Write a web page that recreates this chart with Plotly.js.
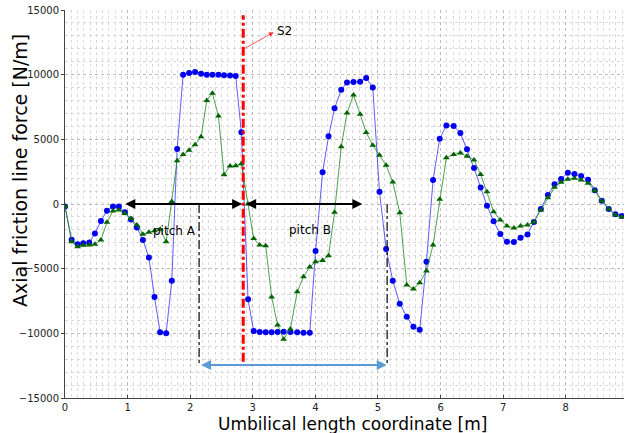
<!DOCTYPE html>
<html>
<head>
<meta charset="utf-8">
<script src="https://cdn.plot.ly/plotly-3.0.1.min.js"></script>
<style>html,body{margin:0;padding:0;background:#fff;}#chart{width:625px;height:433px;}</style>
</head>
<body>
<div id="chart"></div>
<script>
// Umbilical length coordinate [m]
var xCoord = [0.000,0.106,0.202,0.292,0.388,0.478,0.574,0.670,0.766,0.861,
  0.957,1.053,1.148,1.244,1.340,1.430,1.520,1.616,1.706,1.791,
  1.887,1.983,2.078,2.174,2.265,2.355,2.451,2.541,2.637,2.727,
  2.818,2.924,3.014,3.110,3.206,3.301,3.397,3.493,3.600,3.710,
  3.810,3.910,4.003,4.115,4.210,4.306,4.413,4.505,4.609,4.715,
  4.811,4.917,5.024,5.130,5.236,5.348,5.460,5.566,5.667,5.774,
  5.880,5.986,6.092,6.209,6.316,6.422,6.534,6.640,6.741,6.847,
  6.953,7.060,7.171,7.278,7.389,7.490,7.602,7.714,7.820,7.926,
  8.032,8.138,8.245,8.357,8.463,8.575,8.686,8.793,8.894];

// Blue series (circles) [N/m]
var blueForce = [-200,-2760,-3120,-3030,-2980,-2290,-1310,-520,-200,-200,
  -630,-1190,-1810,-2780,-4130,-7200,-9920,-9990,-5930,4250,
  10000,10130,10210,10070,10000,10000,10000,9950,9930,9900,
  5540,-7370,-9820,-9900,-9920,-9920,-9900,-9870,-9900,-9920,
  -9950,-9960,-3630,2450,5230,7400,8830,9400,9440,9460,
  9740,9000,950,-3480,-5930,-7710,-8710,-9490,-9720,-4460,
  1860,5050,6060,6030,5490,4230,2780,1280,-130,-1340,
  -2320,-2910,-2940,-2600,-2350,-1390,-390,700,1520,1930,
  2420,2320,2170,1880,1060,260,-390,-800,-930];

// Green series (triangles) [N/m]
var greenForce = [-150,-2920,-3310,-3180,-3170,-3120,-2780,-1420,-540,-460,
  -730,-1120,-1620,-2330,-2190,-2060,-1960,-2910,200,3350,
  3820,4150,4590,5200,8000,8560,6810,2270,2940,2960,
  3120,0,-2660,-3170,-3220,-7190,-9360,-10450,-9670,-6780,
  -5620,-4870,-4460,-4360,-4000,-640,4430,7030,8430,6930,
  5520,4540,3760,2990,1700,-670,-6260,-6570,-6080,-5180,
  -3170,360,3580,3820,3940,3690,3400,2290,950,-590,
  -1240,-1700,-1860,-1700,-1620,-1390,-460,490,1290,1680,
  1910,1990,1860,1600,1030,230,-390,-850,-1010];

var xTickVals = [0,1,2,3,4,5,6,7,8];
var yTickVals = [-15000,-10000,-5000,0,5000,10000,15000];

var font = "DejaVu Sans, Liberation Sans, sans-serif";

var traces = [
  {x: xCoord, y: blueForce, type: 'scatter', mode: 'lines+markers',
   line: {color: 'rgba(40,40,255,0.75)', width: 1},
   marker: {symbol: 'circle', size: 6, color: '#0000ee', line: {width: 0}},
   hoverinfo: 'skip', showlegend: false},
  {x: xCoord, y: greenForce, type: 'scatter', mode: 'lines+markers',
   line: {color: 'rgba(30,140,30,0.8)', width: 1},
   marker: {symbol: 'triangle-up', size: 6, color: '#006400', line: {width: 0}},
   hoverinfo: 'skip', showlegend: false}
];

var layout = {
  width: 625, height: 433,
  margin: {l: 65, r: 1, t: 10, b: 35, pad: 0},
  paper_bgcolor: '#ffffff', plot_bgcolor: '#ffffff',
  font: {family: font, color: '#000'},
  showlegend: false,
  xaxis: {
    range: [0, 8.93], tickvals: xTickVals, ticks: 'inside', ticklen: 3, tickcolor: '#444',
    tickfont: {size: 10, color: '#222'},
    showline: true, linecolor: '#444', linewidth: 1, zeroline: false,
    showgrid: true, gridcolor: '#bcbcbc', griddash: 'dot', gridwidth: 1,
    minor: {dtick: 0.1, tick0: 0, showgrid: true, gridcolor: '#dadada', griddash: 'dot', gridwidth: 1}
  },
  yaxis: {
    range: [-15000, 15000], tickvals: yTickVals, tickformat: 'd', ticks: 'outside', ticklen: 3, tickcolor: '#444',
    tickfont: {size: 10, color: '#222'},
    showline: true, linecolor: '#444', linewidth: 1, zeroline: false,
    showgrid: true, gridcolor: '#bcbcbc', griddash: 'dot', gridwidth: 1,
    minor: {dtick: 1000, tick0: 0, showgrid: true, gridcolor: '#dadada', griddash: 'dot', gridwidth: 1}
  },
  shapes: [
    {type: 'line', xref: 'x', yref: 'y', x0: 2.847, x1: 2.847, y0: -12200, y1: 14600,
     line: {color: '#ff0000', width: 3, dash: 'dashdot'}},
    {type: 'line', xref: 'x', yref: 'y', x0: 2.142, x1: 2.142, y0: 0, y1: -12450,
     line: {color: '#000', width: 1.2, dash: 'dashdot'}},
    {type: 'line', xref: 'x', yref: 'y', x0: 5.146, x1: 5.146, y0: 0, y1: -12450,
     line: {color: '#000', width: 1.2, dash: 'dashdot'}}
  ],
  annotations: [
    // axis titles
    {xref: 'paper', yref: 'paper', x: -0.0805, y: 0.585, xanchor: 'center', yanchor: 'middle',
     textangle: -90, text: 'Axial friction line force [N/m]', showarrow: false,
     font: {size: 19, color: '#000'}},
    {xref: 'paper', yref: 'paper', x: 0.515, y: -0.066, xanchor: 'center', yanchor: 'middle',
     text: 'Umbilical length coordinate [m]', showarrow: false,
     font: {size: 17, color: '#000'}},
    // pitch A double arrow
    {x: 2.83, y: 0, ax: 0.94, ay: 0, xref: 'x', yref: 'y', axref: 'x', ayref: 'y',
     text: '', showarrow: true, arrowhead: 2, startarrowhead: 2, arrowside: 'end+start',
     arrowsize: 1, startarrowsize: 1, arrowwidth: 2, arrowcolor: '#000'},
    // pitch B double arrow
    {x: 4.75, y: 0, ax: 2.87, ay: 0, xref: 'x', yref: 'y', axref: 'x', ayref: 'y',
     text: '', showarrow: true, arrowhead: 2, startarrowhead: 2, arrowside: 'end+start',
     arrowsize: 1, startarrowsize: 1, arrowwidth: 2, arrowcolor: '#000'},
    // blue double arrow
    {x: 5.14, y: -12450, ax: 2.15, ay: -12450, xref: 'x', yref: 'y', axref: 'x', ayref: 'y',
     text: '', showarrow: true, arrowhead: 2, startarrowhead: 2, arrowside: 'end+start',
     arrowsize: 1, startarrowsize: 1, arrowwidth: 2, arrowcolor: '#5b9bd5'},
    // S2 arrow
    {x: 3.333, y: 13280, ax: 2.845, ay: 11960, xref: 'x', yref: 'y', axref: 'x', ayref: 'y',
     text: '', showarrow: true, arrowhead: 2, arrowsize: 1.2, arrowwidth: 0.8, arrowcolor: '#ff3030'},
    {x: 3.51, y: 13380, xref: 'x', yref: 'y', text: 'S2', showarrow: false,
     font: {size: 12, color: '#000'}},
    {x: 1.75, y: -2060, xref: 'x', yref: 'y', text: 'pitch A', showarrow: false,
     font: {size: 12, color: '#000'}},
    {x: 3.92, y: -2040, xref: 'x', yref: 'y', text: 'pitch B', showarrow: false,
     font: {size: 12, color: '#000'}}
  ]
};

Plotly.newPlot('chart', traces, layout, {displayModeBar: false, staticPlot: true});
</script>
</body>
</html>
